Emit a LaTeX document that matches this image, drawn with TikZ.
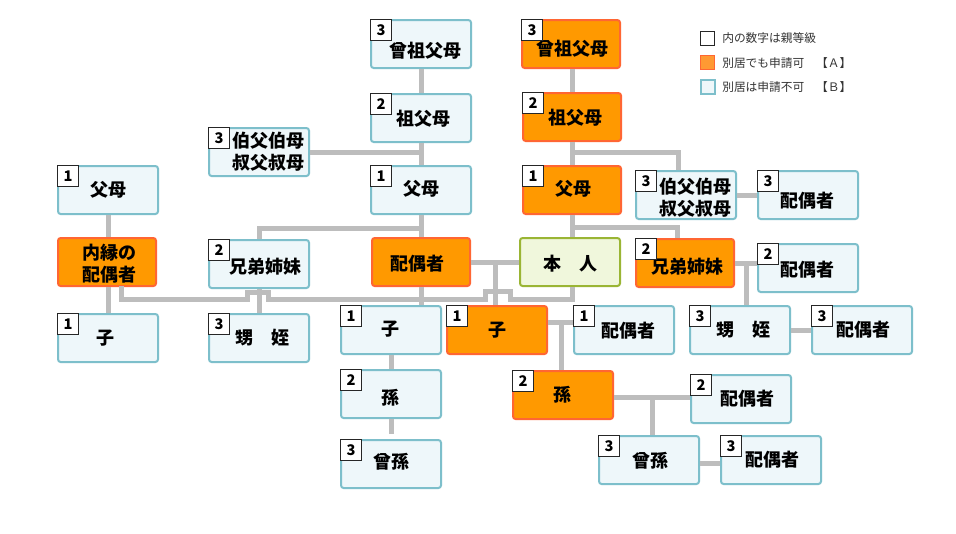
\documentclass[tikz,border=0pt]{standalone}
\usepackage{fontspec}
\setmainfont{Noto Sans CJK JP}
\usetikzlibrary{calc}
\definecolor{bfill}{HTML}{EEF7FA}
\definecolor{bline}{HTML}{7DBFCB}
\definecolor{afill}{HTML}{FF9900}
\definecolor{aline}{HTML}{FF6633}
\definecolor{lfill}{HTML}{FF9933}
\definecolor{sfill}{HTML}{F0F7DC}
\definecolor{sline}{HTML}{9AB534}
\definecolor{connc}{HTML}{BDBDBD}
\definecolor{legtext}{HTML}{333333}
\begin{document}
\begin{tikzpicture}[x=0.75pt,y=-0.75pt,
  box/.style={draw, rounded corners=2pt, line width=1.5pt, minimum width=75pt, minimum height=36pt, inner sep=0pt},
  bbox/.style={box, fill=bfill, draw=bline},
  abox/.style={box, fill=afill, draw=aline},
  sbox/.style={box, fill=sfill, draw=sline},
  badge/.style={draw=black!85, fill=white, line width=0.75pt, minimum size=16pt, inner sep=0pt, font=\fontsize{11}{11}\selectfont\bfseries, anchor=north west},
  lbl/.style={font=\fontsize{13.5}{16.5}\selectfont\bfseries, align=center, inner sep=0pt},
  link/.style={draw=connc, line width=3.75pt},
  legbox/.style={minimum size=10.5pt, inner sep=0pt},
  legtxt/.style={anchor=west, inner sep=0pt, font=\fontsize{8.8}{10}\selectfont, text=legtext},
]
\useasboundingbox (0,0) rectangle (956,533);
\fill[white] (0,0) rectangle (956,533);

% ---------- boxes ----------
% centre-left column
\node[bbox] (ggB) at (421,44) {};
\node[lbl] (ggBt) at (425,51) {曾祖父母};
\node[badge] (ggBb) at (ggB.north west) {3};
\node[bbox] (gpB) at (421,118) {};
\node[lbl] (gpBt) at (423,119) {祖父母};
\node[badge] (gpBb) at (gpB.north west) {2};
\node[bbox] (paB) at (421,190) {};
\node[lbl] (paBt) at (421,189) {父母};
\node[badge] (paBb) at (paB.north west) {1};
\node[abox, minimum width=73.5pt] (spA) at (421,262) {};
\node[lbl] (spAt) at (417,264) {配偶者};

% self column
\node[abox, minimum width=73.5pt] (ggA) at (571,44) {};
\node[lbl] (ggAt) at (572,49) {曾祖父母};
\node[badge] (ggAb) at (ggA.north west) {3};
\node[abox, minimum width=73.5pt] (gpA) at (572,117) {};
\node[lbl] (gpAt) at (575,118) {祖父母};
\node[badge] (gpAb) at (gpA.north west) {2};
\node[abox, minimum width=73.5pt] (paA) at (572,190) {};
\node[lbl] (paAt) at (573,189) {父母};
\node[badge] (paAb) at (paA.north west) {1};
\node[sbox] (self) at (570,262) {};
\node[lbl] (selft) at (570,264) {本　人};

% left side
\node[bbox] (ucL) at (259,152) {};
\node[lbl] (ucLt) at (268,152) {伯父伯母\\叔父叔母};
\node[badge] (ucLb) at (ucL.north west) {3};
\node[bbox] (sibL) at (259,264) {};
\node[lbl] (sibLt) at (265,267) {兄弟姉妹};
\node[badge] (sibLb) at (sibL.north west) {2};
\node[bbox] (nnL) at (259,338) {};
\node[lbl] (nnLt) at (262,338) {甥　姪};
\node[badge] (nnLb) at (nnL.north west) {3};
\node[bbox] (paL) at (108,190) {};
\node[lbl] (paLt) at (108,190) {父母};
\node[badge] (paLb) at (paL.north west) {1};
\node[abox, minimum width=73.5pt] (ncL) at (107,262) {};
\node[lbl] (ncLt) at (109,264) {内縁の\\配偶者};
\node[bbox] (chL) at (108,338) {};
\node[lbl] (chLt) at (105,338) {子};
\node[badge] (chLb) at (chL.north west) {1};

% descendants of spouse
\node[bbox] (chB) at (391,330) {};
\node[lbl] (chBt) at (390,329) {子};
\node[badge] (chBb) at (chB.north west) {1};
\node[bbox] (gcB) at (391,394) {};
\node[lbl] (gcBt) at (390,398) {孫};
\node[badge] (gcBb) at (gcB.north west) {2};
\node[bbox] (ggcB) at (391,464) {};
\node[lbl] (ggcBt) at (391,462) {曾孫};
\node[badge] (ggcBb) at (ggcB.north west) {3};

% descendants of self
\node[abox] (chA) at (497,330) {};
\node[lbl] (chAt) at (497,330) {子};
\node[badge] (chAb) at (chA.north west) {1};
\node[bbox] (chSp) at (624,330) {};
\node[lbl] (chSpt) at (628,331) {配偶者};
\node[badge] (chSpb) at (chSp.north west) {1};
\node[abox] (gcA) at (563,395) {};
\node[lbl] (gcAt) at (562,395) {孫};
\node[badge] (gcAb) at (gcA.north west) {2};
\node[bbox] (gcSp) at (741,399) {};
\node[lbl] (gcSpt) at (747,399) {配偶者};
\node[badge] (gcSpb) at (gcSp.north west) {2};
\node[bbox] (ggcA) at (649,460) {};
\node[lbl] (ggcAt) at (650,461) {曾孫};
\node[badge] (ggcAb) at (ggcA.north west) {3};
\node[bbox] (ggcSp) at (771,460) {};
\node[lbl] (ggcSpt) at (772,460) {配偶者};
\node[badge] (ggcSpb) at (ggcSp.north west) {3};

% right side
\node[bbox] (ucR) at (686,195) {};
\node[lbl] (ucRt) at (695,197.5) {伯父伯母\\叔父叔母};
\node[badge] (ucRb) at (ucR.north west) {3};
\node[bbox] (ucSp) at (808,195) {};
\node[lbl] (ucSpt) at (807,201) {配偶者};
\node[badge] (ucSpb) at (ucSp.north west) {3};
\node[abox, minimum width=73.5pt] (sibR) at (685,263) {};
\node[lbl] (sibRt) at (687,267) {兄弟姉妹};
\node[badge] (sibRb) at (sibR.north west) {2};
\node[bbox] (sibSp) at (808,268) {};
\node[lbl] (sibSpt) at (807,270) {配偶者};
\node[badge] (sibSpb) at (sibSp.north west) {2};
\node[bbox] (nnR) at (740,330) {};
\node[lbl] (nnRt) at (743,330) {甥　姪};
\node[badge] (nnRb) at (nnR.north west) {3};
\node[bbox] (nnSp) at (862,330) {};
\node[lbl] (nnSpt) at (863,330) {配偶者};
\node[badge] (nnSpb) at (nnSp.north west) {3};

% ---------- connectors ----------
\draw[link] (ggB.south) -- (gpB.north);
\draw[link] (gpB.south) -- (paB.north);
\draw[link] (ucL.east) -- (ucL.east -| gpB.south);
\draw[link] (paB.south) -- (spA.north);
\coordinate (j1) at (421,228);
\draw[link] (j1) -| (sibL.north);
\draw[link] (sibL.south) -- (nnL.north);
\draw[link] (spA.east) -- (self.west);
\coordinate (j2) at ($(spA.east)!0.5!(self.west)$);
\draw[link] (j2) -- (j2 |- chA.north);
\draw[link] (spA.south) -- (spA.south |- chB.north);
\coordinate (hs) at (121,286);
\coordinate (he) at (572,287);
\draw[link] (hs) -- (121,299) -- (247,299) -- (247,292) -- (268,292) -- (268,299)
  -- (485,299) -- (485,291) -- (510,291) -- (510,299) -- (572,299) -- (he);
\draw[link] (paL.south) -- (paL.south |- ncL.north);
\draw[link] (ncL.south -| paL.south) -- (chL.north -| paL.south);

\draw[link] (ggA.south -| gpA.north) -- (gpA.north);
\draw[link] (gpA.south) -- (paA.north);
\coordinate (j3) at (572,152);
\coordinate (ucRt0) at ($(ucR.north)+(-8,0)$);
\draw[link] (j3) -| (ucRt0);
\draw[link] (paA.south) -- (paA.south |- self.north);
\coordinate (j4) at (572,227);
\coordinate (sibRt0) at ($(sibR.north)+(-8,0)$);
\draw[link] (j4) -| (sibRt0);
\draw[link] (ucR.east) -- (ucSp.west);
\coordinate (s1) at (sibR.east);
\draw[link] (s1) -- (s1 -| sibSp.west);
\coordinate (j5) at (746,263);
\draw[link] (j5) -- (j5 |- nnR.north);
\draw[link] (nnR.east) -- (nnSp.west);

\coordinate (c1) at ($(chA.east)+(0,-8)$);
\draw[link] (c1) -- (c1 -| chSp.west);
\coordinate (j6) at (561,322);
\draw[link] (j6) -- (j6 |- gcA.north);
\coordinate (c2) at ($(gcA.east)+(0,2)$);
\draw[link] (c2) -- (c2 -| gcSp.west);
\coordinate (j7) at (652,397);
\draw[link] (j7) -- (j7 |- ggcA.north);
\coordinate (c3) at ($(ggcA.east)+(0,3)$);
\draw[link] (c3) -- (c3 -| ggcSp.west);

\draw[link] (chB.south) -- (gcB.north);
\coordinate (gce) at ($(gcB.south)+(0,15)$);
\draw[link] (gcB.south) -- (gce);

% ---------- legend ----------
\node[legbox, draw=black!85, fill=white, line width=0.75pt] (lg1) at (707.5,38.5) {};
\node[legtxt] (lt1) at (722,38) {内の数字は親等級};
\node[legbox, draw=aline, fill=lfill, line width=0.75pt] (lg2) at (707.5,62.5) {};
\node[legtxt] (lt2) at (722,63) {別居でも申請可　【Ａ】};
\node[legbox, draw=bline, fill=bfill, line width=1.5pt] (lg3) at (707.5,87) {};
\node[legtxt] (lt3) at (722,87) {別居は申請不可　【Ｂ】};
\end{tikzpicture}
\end{document}
